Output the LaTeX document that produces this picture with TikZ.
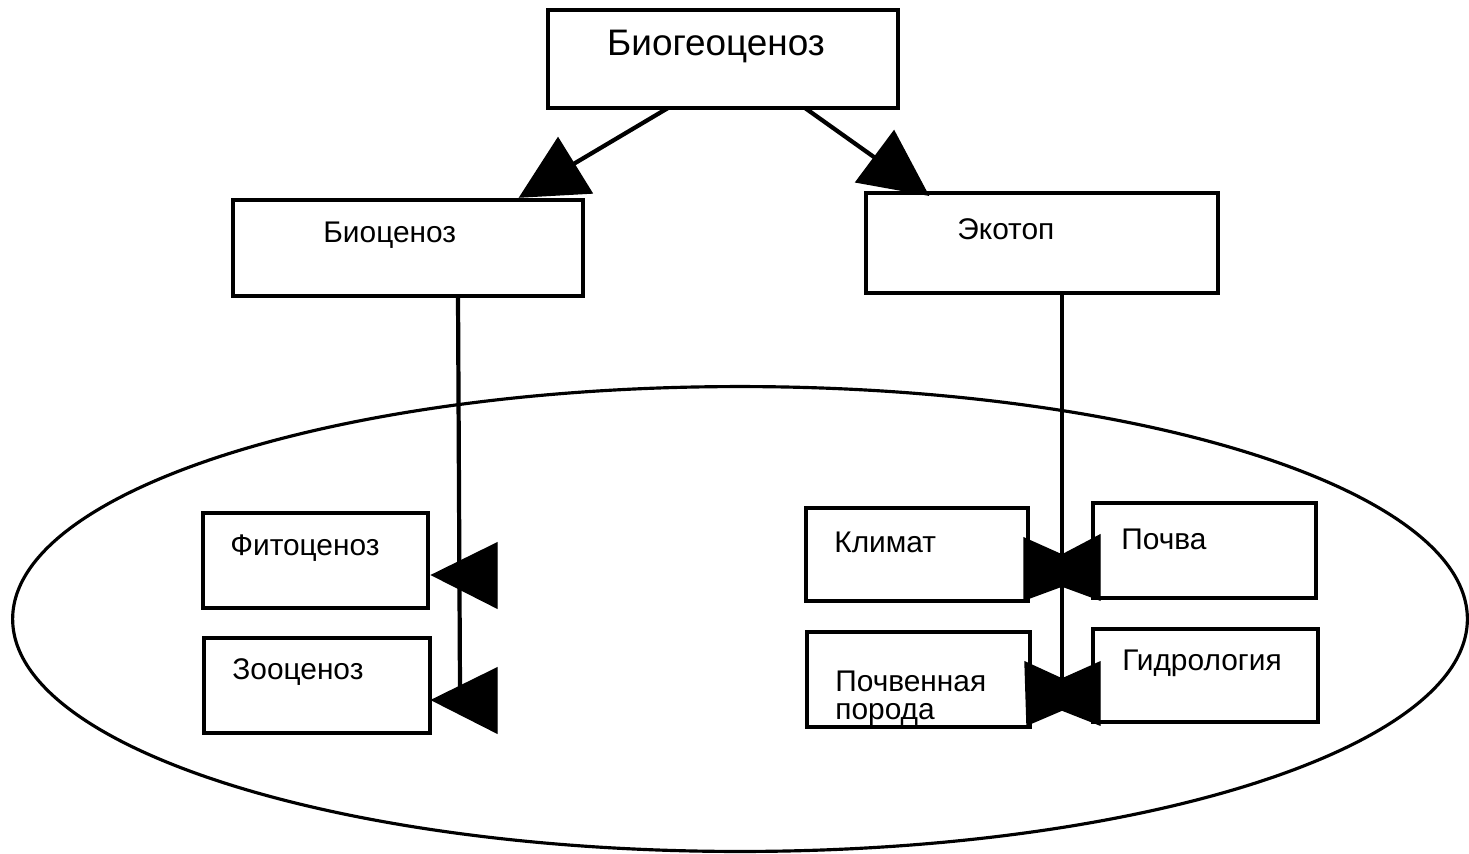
\documentclass[tikz,border=0pt]{standalone}
\usepackage{fontspec}
\setmainfont{Liberation Sans}
\usetikzlibrary{fit,shapes.geometric}
\begin{document}
\begin{tikzpicture}[x=0.02cm,y=-0.02cm,
  box/.style={draw,line width=2.2pt,inner sep=0pt,rectangle},
  txt/.style={inner sep=0pt,anchor=west,font=\fontsize{17}{20}\selectfont},
  conn/.style={line width=2.4pt},
  head/.style={fill=black,draw=black,line width=0.8pt}]
\useasboundingbox (0,0) rectangle (1469,853);
% ellipse
\node[draw,line width=1.8pt,ellipse,minimum width=29.1cm,minimum height=9.3cm,inner sep=0pt] (env) at (740,619) {};
% boxes
\node[box,fit={(548,10) (898,108)}] (bgc) {};
\node[box,fit={(233,200) (583,296)}] (bc) {};
\node[box,fit={(866,193) (1218,293)}] (eko) {};
\node[box,fit={(203,513) (428,608)}] (fito) {};
\node[box,fit={(204,638) (430,733)}] (zoo) {};
\node[box,fit={(806,508) (1028,601)}] (klim) {};
\node[box,fit={(1093,503) (1316,598)}] (poch) {};
\node[box,fit={(807,632) (1030,727)}] (poroda) {};
\node[box,fit={(1093,629) (1318,722)}] (gidro) {};
% texts
\node[txt,font=\fontsize{21}{25}\selectfont,anchor=center] (tbgc) at (716,46) {Биогеоценоз};
\node[txt] (tbc) at (323,235) {Биоценоз};
\node[txt] (teko) at (957,229) {Экотоп};
\node[txt] (tfito) at (230,548) {Фитоценоз};
\node[txt] (tzoo) at (232,672) {Зооценоз};
\node[txt] (tklim) at (834,542) {Климат};
\node[txt] (tpoch) at (1121,539) {Почва};
\node[txt] (tpor1) at (835,681) {Почвенная};
\node[txt] (tpor2) at (835,715) {порода};
\node[txt] (tgidro) at (1122,663) {Гидрология};
% connector coordinates
\coordinate (s1) at (668,108);
\coordinate (e1) at (560,172);
\coordinate (s2) at (805,108);
\coordinate (e2) at (895,172);
\coordinate (s3) at (458,296);
\coordinate (e3) at (460,690);
\coordinate (s4) at (1062,293);
\coordinate (e4) at (1062,690);
% connectors
\draw[conn] (s1) -- (e1);
\draw[conn] (s2) -- (e2);
\draw[conn] (s3) -- (e3);
\draw[conn] (s4) -- (e4);
% arrowheads
\filldraw[head] (558,138) -- (520,197) -- (592,193) -- cycle;
\filldraw[head] (894,131) -- (856,182) -- (928,195) -- cycle;
\filldraw[head] (432,575) -- (497,543) -- (497,608) -- cycle;
\filldraw[head] (432,700) -- (497,668) -- (497,733) -- cycle;
\filldraw[head] (1024,538) -- (1062,555) -- (1100,535) -- (1100,600) -- (1062,586) -- (1024,600) -- cycle;
\filldraw[head] (1025,662) -- (1062,679) -- (1100,662) -- (1100,725) -- (1062,710) -- (1027,725) -- cycle;
\end{tikzpicture}
\end{document}
